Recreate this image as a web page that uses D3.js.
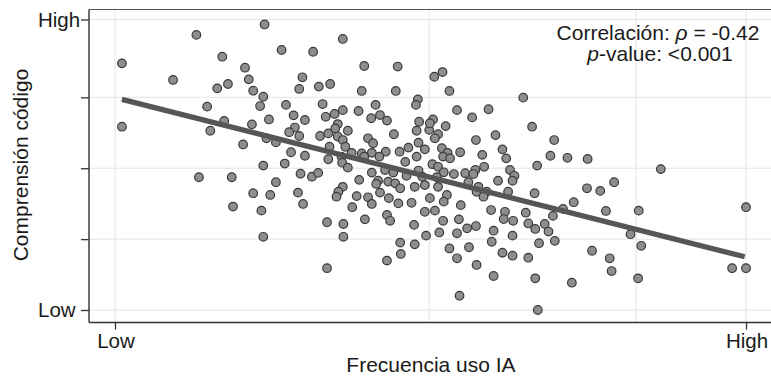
<!DOCTYPE html>
<html>
<head>
<meta charset="utf-8">
<script src="https://cdn.jsdelivr.net/npm/d3@7/dist/d3.min.js"></script>
<style>
  html, body { margin: 0; padding: 0; background: #ffffff; }
  svg { display: block; }
  text { font-family: "Liberation Sans", Arial, Helvetica, sans-serif; fill: #1a1a1a; }
</style>
</head>
<body>
<svg id="chart" width="771" height="376"></svg>
<script>
// ---- Data (0 = Low, 100 = High) ----
const usoIA = [
  12.9, 1.1, 9.2, 14.6, 1.1, 15.1, 13.3, 23.7, 26.4, 31.4,
  17.0, 20.6, 29.7, 21.2, 17.9, 16.2, 29.2, 32.3, 21.9, 23.5,
  23.0, 27.1, 28.3, 30.1, 24.4, 17.3, 21.7, 28.5, 27.6, 29.2,
  32.5, 24.0, 25.5, 20.3, 27.9, 30.1, 26.9, 23.5, 18.5, 29.4,
  31.2, 32.2, 25.5, 21.9, 24.6, 29.0, 29.8, 18.7, 23.2, 23.5,
  36.1, 39.5, 44.8, 34.1, 39.1, 44.5, 48.0, 47.7, 32.9, 41.3,
  36.1, 38.6, 34.8, 33.4, 42.0, 40.6, 43.1, 48.2, 35.3, 34.9,
  36.9, 47.8, 49.8, 33.8, 44.2, 35.3, 40.1, 36.1, 48.1, 40.9,
  34.0, 36.5, 46.5, 45.1, 49.1, 39.1, 37.5, 42.9, 40.7, 41.9,
  47.8, 33.8, 35.9, 36.0, 46.0, 36.9, 39.5, 42.8, 44.1, 40.7,
  48.1, 48.7, 46.2, 38.7, 41.7, 43.3, 44.4, 41.4, 47.5, 49.1,
  45.2, 36.1, 35.4, 35.1, 38.3, 40.1, 42.0, 43.4, 49.9, 40.7,
  44.9, 47.0, 37.6, 49.1, 43.1, 43.6, 39.6, 33.6, 36.2, 47.4,
  36.2, 49.3, 45.2, 47.5, 45.3, 43.1, 33.6, 50.6, 51.9, 53.0,
  64.7, 54.2, 59.2, 56.6, 50.4, 49.9, 52.4, 66.1, 51.2, 50.7,
  60.3, 57.2, 51.8, 61.4, 52.7, 54.7, 58.2, 52.0, 53.1, 62.0,
  50.3, 58.5, 51.2, 66.9, 62.6, 57.1, 52.1, 53.7, 55.5, 63.3,
  56.8, 60.7, 63.0, 51.0, 56.0, 57.6, 51.2, 57.3, 58.9, 62.3,
  58.4, 52.6, 66.5, 52.1, 54.8, 59.6, 61.8, 50.7, 65.1, 52.0,
  54.5, 61.6, 63.1, 57.2, 55.8, 65.5, 66.6, 60.0, 51.4, 54.2,
  63.0, 59.7, 67.2, 53.0, 56.1, 61.4, 63.0, 54.2, 65.5, 57.3,
  60.0, 66.6, 54.6, 67.0, 69.6, 69.0, 71.7, 74.9, 74.8, 76.9,
  79.1, 72.7, 71.0, 77.8, 83.0, 69.4, 68.1, 68.7, 69.7, 81.7,
  83.4, 75.6, 78.4, 78.7, 82.9, 72.4, 86.5, 100.0, 97.8, 100.0
];
const comprension = [
  94.7, 84.9, 79.2, 70.0, 63.1, 61.7, 45.7, 98.3, 89.5, 88.9,
  87.2, 83.4, 80.1, 79.4, 77.8, 76.3, 76.1, 76.9, 75.5, 73.4,
  70.2, 70.6, 67.0, 65.4, 65.6, 65.1, 63.9, 62.8, 61.2, 59.9,
  59.9, 59.1, 57.7, 57.0, 54.3, 53.1, 50.4, 49.7, 45.7, 46.9,
  45.9, 47.2, 44.0, 40.2, 39.6, 40.4, 36.5, 35.6, 34.2, 25.2,
  93.3, 84.0, 83.8, 77.8, 75.4, 75.4, 72.5, 70.6, 70.9, 70.6,
  68.8, 68.5, 67.5, 66.5, 67.1, 66.0, 65.2, 64.8, 64.0, 62.5,
  61.7, 61.7, 62.0, 60.8, 60.5, 59.7, 59.1, 58.5, 57.6, 57.4,
  56.2, 56.2, 55.9, 54.5, 55.3, 53.9, 54.1, 54.5, 54.1, 52.8,
  52.8, 51.9, 52.8, 50.7, 51.0, 49.0, 52.8, 48.2, 47.3, 47.3,
  48.0, 45.9, 46.2, 44.8, 44.5, 44.2, 43.6, 43.4, 42.4, 43.0,
  41.9, 42.4, 40.7, 39.0, 39.2, 38.8, 40.4, 38.5, 38.5, 36.5,
  36.7, 36.9, 35.4, 33.8, 32.7, 30.7, 31.2, 30.2, 29.6, 29.3,
  25.2, 25.6, 23.2, 22.6, 19.3, 17.0, 14.4, 80.3, 81.9, 75.4,
  73.1, 68.8, 69.1, 66.3, 65.6, 64.3, 63.3, 63.1, 60.5, 59.1,
  60.2, 58.5, 55.7, 55.3, 54.1, 54.3, 53.4, 52.8, 52.2, 52.2,
  50.2, 49.3, 49.3, 49.7, 48.2, 48.2, 47.4, 46.8, 47.1, 46.2,
  46.8, 44.5, 44.5, 45.7, 44.0, 42.4, 42.4, 40.7, 40.7, 40.7,
  39.0, 39.6, 40.2, 37.3, 36.1, 34.4, 33.8, 34.2, 33.5, 30.7,
  31.2, 31.3, 30.7, 28.9, 28.1, 29.8, 27.9, 27.3, 26.7, 26.4,
  25.6, 23.5, 23.0, 21.2, 21.6, 19.7, 18.7, 17.8, 18.0, 15.5,
  11.7, 10.9, 4.9, 0.0, 58.5, 53.1, 52.4, 52.0, 41.9, 41.0,
  44.0, 37.1, 34.8, 34.1, 34.2, 32.4, 29.6, 27.0, 23.8, 26.1,
  22.1, 20.4, 17.8, 13.4, 10.9, 9.4, 48.5, 35.4, 14.4, 14.4
];
// fitted regression line (endpoints)
const fitX = [1.1, 99.8];
const fitY = [72.5, 18.3];
// axis breaks and labels
const xGridVals = [0, 49.8, 82.6, 100];
const xTickVals = [0, 100];
const xTickLabels = ["Low", "High"];
const yTickVals = [0, 24.4, 48.8, 73.2, 100];
const yTickLabels = ["Low", "", "", "", "High"];
const xTitle = "Frecuencia uso IA";
const yTitle = "Comprensión código";

// ---- Layout ----
const panel = { left: 89, top: 9.5, right: 771, bottom: 322.5 };
const x = d3.scaleLinear().domain([0, 100]).range([115, 746]);
const y = d3.scaleLinear().domain([0, 100]).range([310, 19.5]);

const svg = d3.select("#chart");
svg.append("rect").attr("width", 771).attr("height", 376).attr("fill", "#ffffff");

// grid
const grid = svg.append("g").attr("stroke", "#e4e4e4").attr("stroke-width", 1);
grid.selectAll("line.gy").data(yTickVals).join("line")
  .attr("x1", panel.left).attr("x2", panel.right)
  .attr("y1", d => y(d)).attr("y2", d => y(d));
grid.selectAll("line.gx").data(xGridVals).join("line")
  .attr("class", "gx")
  .attr("x1", d => x(d)).attr("x2", d => x(d))
  .attr("y1", panel.top).attr("y2", panel.bottom);

// points
const pts = usoIA.map((v, i) => ({ x: v, y: comprension[i] }));
svg.append("g").selectAll("circle").data(pts).join("circle")
  .attr("cx", d => x(d.x)).attr("cy", d => y(d.y)).attr("r", 4.3)
  .attr("fill", "#8e8e8e").attr("stroke", "#3a3a3a").attr("stroke-width", 1.2);

// regression line
const fit = fitX.map((v, i) => ({ x: v, y: fitY[i] }));
svg.append("path").datum(fit)
  .attr("d", d3.line().x(d => x(d.x)).y(d => y(d.y)))
  .attr("fill", "none").attr("stroke", "#565656").attr("stroke-width", 5.2);

// top border
svg.append("line").attr("x1", panel.left).attr("x2", panel.right)
  .attr("y1", panel.top).attr("y2", panel.top)
  .attr("stroke", "#555").attr("stroke-width", 1.2);

// y axis
const yAxis = svg.append("g").attr("transform", `translate(${panel.left},0)`)
  .call(d3.axisLeft(y).tickValues(yTickVals).tickSize(8).tickSizeOuter(0).tickFormat(""));
yAxis.select(".domain").attr("d", `M0,${panel.top}V${panel.bottom}`).attr("stroke", "#333").attr("stroke-width", 1.4);
yAxis.selectAll(".tick line").attr("stroke", "#333").attr("stroke-width", 1.3);
svg.append("g").selectAll("text").data(yTickVals).join("text")
  .attr("x", 38).attr("y", d => y(d) + 7.3)
  .attr("font-size", 20.5).attr("text-anchor", "start")
  .text((d, i) => yTickLabels[i]);

// x axis
const xAxis = svg.append("g").attr("transform", `translate(0,${panel.bottom})`)
  .call(d3.axisBottom(x).tickValues(xTickVals).tickSize(7).tickSizeOuter(0).tickFormat(""));
xAxis.select(".domain").attr("d", `M${panel.left},0H${panel.right}`).attr("stroke", "#333").attr("stroke-width", 1.4);
xAxis.selectAll(".tick line").attr("stroke", "#333").attr("stroke-width", 1.3);
svg.append("g").selectAll("text").data(xTickVals).join("text")
  .attr("x", d => x(d) + 1).attr("y", 348)
  .attr("font-size", 20.5).attr("text-anchor", "middle")
  .text((d, i) => xTickLabels[i]);

// titles
svg.append("text").attr("x", 431).attr("y", 372)
  .attr("font-size", 21).attr("text-anchor", "middle").text(xTitle);
svg.append("text").attr("transform", "translate(28,165) rotate(-90)")
  .attr("font-size", 21).attr("text-anchor", "middle").text(yTitle);

// annotation
const ann = svg.append("g").attr("font-size", 21).attr("text-anchor", "middle");
const t1 = ann.append("text").attr("x", 658).attr("y", 40);
t1.append("tspan").text("Correlación: ");
t1.append("tspan").attr("font-style", "italic").text("ρ");
t1.append("tspan").text(" = -0.42");
const t2 = ann.append("text").attr("x", 660).attr("y", 61);
t2.append("tspan").attr("font-style", "italic").text("p");
t2.append("tspan").text("-value: <0.001");
</script>
</body>
</html>
